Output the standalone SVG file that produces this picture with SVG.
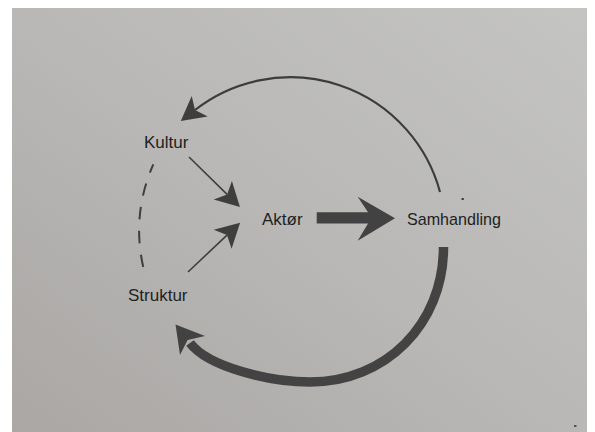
<svg xmlns="http://www.w3.org/2000/svg" width="595" height="432" viewBox="0 0 595 432">
  <defs>
    <linearGradient id="paper" x1="0" y1="1" x2="1" y2="0">
      <stop offset="0" stop-color="#aaa7a4"/>
      <stop offset="0.5" stop-color="#b9b8b6"/>
      <stop offset="1" stop-color="#c4c4c3"/>
    </linearGradient>
    <marker id="head" markerUnits="userSpaceOnUse" viewBox="-25 -14 27 28" markerWidth="27" markerHeight="28" refX="-18" refY="0" orient="auto">
      <path d="M0,0 L-24,-13 L-18,0 L-24,13 Z" fill="#3e3e3e"/>
    </marker>
    <style>
      .lbl { font-family: "Liberation Sans", Arial, sans-serif; font-size: 17px; fill: #1f1f1f; }
      .thin { fill: none; stroke: #3e3e3e; stroke-width: 1.6; marker-end: url(#head); }
      .arc { fill: none; stroke: #3c3c3c; stroke-width: 2.2; marker-end: url(#head); }
      .thick { fill: none; stroke: #434343; stroke-width: 9.5; }
      .dash { fill: none; stroke: #3e3e3e; stroke-width: 2; stroke-dasharray: 12.5 11.5; stroke-dashoffset: 3.5; }
      .ink { fill: #424242; }
    </style>
  </defs>

  <!-- page -->
  <rect width="595" height="432" fill="#ffffff"/>
  <rect x="12" y="8" width="575" height="424" fill="url(#paper)"/>

  <!-- connectors -->
  <g id="connectors">
    <!-- dashed link Kultur - Struktur -->
    <path class="dash" d="M153.3,164.3 Q131,215.5 143.7,269"/>
    <!-- Kultur -> Aktør -->
    <path class="thin" d="M189,157 L227.1,194.4"/>
    <!-- Struktur -> Aktør -->
    <path class="thin" d="M188,272 L227,235.1"/>
    <!-- Aktør -> Samhandling -->
    <polygon class="ink" points="316.7,212.3 368,212.3 357.7,196.7 395,218.3 357.7,240.7 368,223.5 316.7,223.5"/>
    <!-- Samhandling back to Kultur (upper arc) -->
    <path class="arc" d="M440,192 A155,155 0 0 0 195,110"/>
    <!-- Samhandling back to Struktur (lower heavy arc) -->
    <path class="thick" d="M443.5,247 C443.5,325 385,382 310,382 C270,382 208,367 190,343"/>
    <polygon class="ink" points="175.5,324.5 205,336 187.6,340 180,355"/>
  </g>

  <!-- nodes -->
  <g id="kultur"><text class="lbl" x="144" y="148">Kultur</text></g>
  <g id="struktur"><text class="lbl" x="128" y="301">Struktur</text></g>
  <g id="aktor"><text class="lbl" x="262" y="225">Aktør</text></g>
  <g id="samhandling">
    <text class="lbl" x="407" y="225" textLength="94" lengthAdjust="spacingAndGlyphs">Samhandling</text>
    <ellipse cx="462.7" cy="199" rx="1.4" ry="1" fill="#333"/>
  </g>

  <!-- speck on the paper -->
  <rect x="574" y="425" width="2.5" height="2" fill="#555"/>
</svg>
